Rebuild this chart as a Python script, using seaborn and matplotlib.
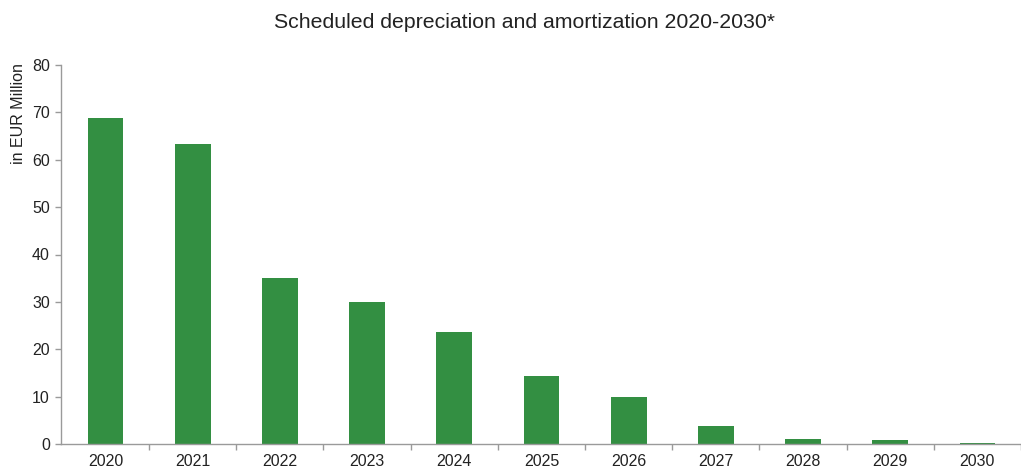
import matplotlib
matplotlib.use("Agg")
import matplotlib.pyplot as plt
import seaborn as sns
import pandas as pd

years = ["2020", "2021", "2022", "2023", "2024", "2025", "2026", "2027", "2028", "2029", "2030"]
amounts = [68.8, 63.3, 35.0, 30.0, 23.6, 14.3, 9.9, 3.8, 1.1, 0.8, 0.2]

sns.set_style("white")
plt.rcParams["font.family"] = ["Liberation Sans", "DejaVu Sans"]

df = pd.DataFrame({"year": years, "amount": amounts})

fig = plt.figure(figsize=(10.21, 4.67), dpi=100)
ax = fig.add_axes([61 / 1021, 23 / 467, 1 - 61 / 1021, (444 - 65) / 467])

sns.barplot(data=df, x="year", y="amount", color="#338f42", width=0.41,
            saturation=1, linewidth=0, ax=ax)

ax.set_ylim(0, 80)
ax.set_yticks(range(0, 81, 10))
ax.set_xlim(-0.51, 10.36)
ax.set_xlabel("")
ax.set_ylabel("in EUR Million", fontsize=11.5, color="#222222", loc="top")
ax.yaxis.set_label_coords(-35 / 960, 1.005)

spine_color = "#9a9a9a"
for side in ("top", "right"):
    ax.spines[side].set_visible(False)
for side in ("left", "bottom"):
    ax.spines[side].set_color(spine_color)
    ax.spines[side].set_linewidth(1.0)

# Major x ticks carry the year labels; minor ticks mark category boundaries
ax.tick_params(axis="x", which="major", bottom=True, length=0, labelsize=11.5,
               colors="#222222", pad=7)
ax.set_xticks([i - 0.5 for i in range(1, 12)], minor=True)
ax.tick_params(axis="x", which="minor", bottom=True, length=4, color=spine_color, width=1)
ax.tick_params(axis="y", left=True, length=4, color=spine_color, width=1, labelsize=11.5,
               labelcolor="#222222", pad=4)

fig.suptitle("Scheduled depreciation and amortization 2020-2030*", fontsize=15.3,
             color="#222222", x=524 / 1021, y=1 - 22 / 467, va="center")

fig.savefig("out.png", dpi=100)
